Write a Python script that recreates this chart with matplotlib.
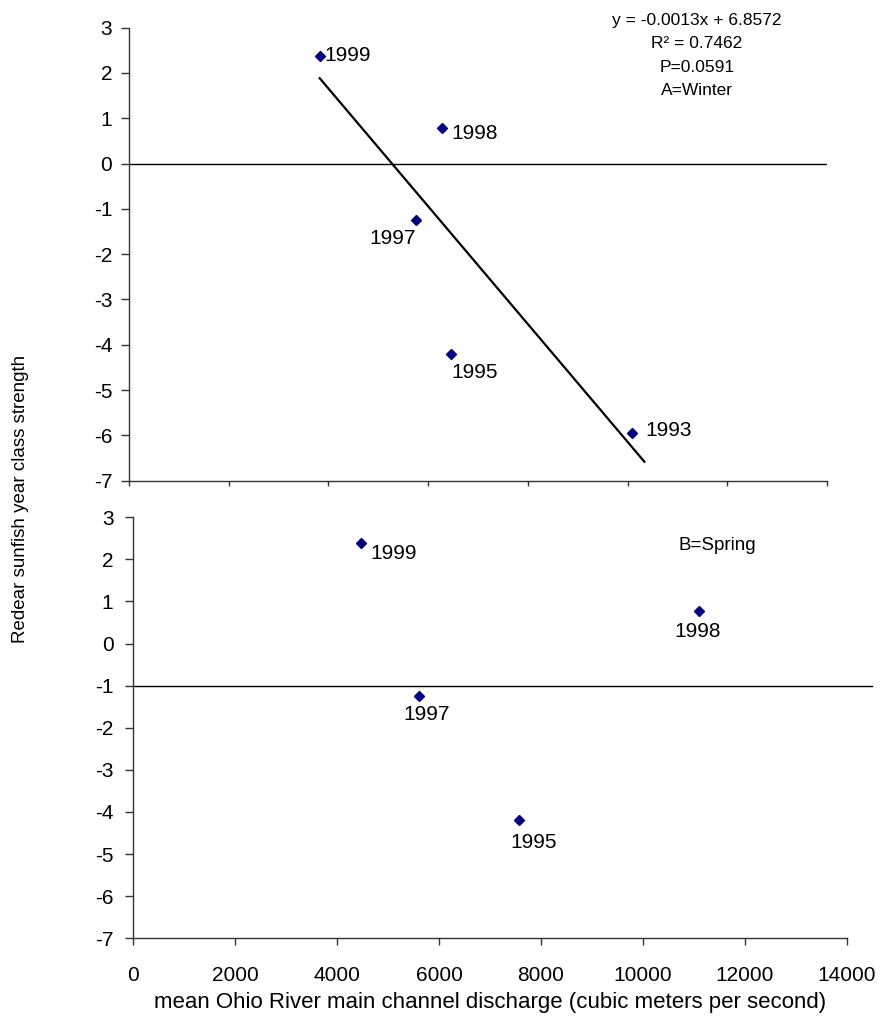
import matplotlib
matplotlib.use('Agg')
import matplotlib.pyplot as plt

plt.rcParams['font.family'] = ['Liberation Sans', 'DejaVu Sans']
plt.rcParams['axes.unicode_minus'] = False

# year class strength of redear sunfish vs. mean Ohio River discharge
winter_years = ['1999', '1998', '1997', '1995', '1993']
winter_flow = [3825, 6273, 5751, 6453, 10097]
winter_strength = [2.38, 0.78, -1.25, -4.20, -5.95]

spring_years = ['1999', '1998', '1997', '1995']
spring_flow = [4470, 11105, 5614, 7575]
spring_strength = [2.38, 0.78, -1.25, -4.20]

# regression for winter discharge
slope = -0.0013
intercept = 6.8572
fit_range = [3825, 10337]

# label offsets (pixels) and alignment for each year
winter_offsets = [(5, 0, 'left'), (10, -5, 'left'), (0, -18, 'right'),
                  (1, -19, 'left'), (13, 3, 'left')]
spring_offsets = [(9, -10, 'left'), (-2, -21, 'center'), (7, -18, 'center'),
                  (14, -22, 'center')]

W, H = 883, 1018
fig = plt.figure(figsize=(W / 100, H / 100), dpi=100)
ax1 = fig.add_axes([129 / W, 1 - 480.7 / H, 698 / W, 453 / H])
ax2 = fig.add_axes([133.3 / W, 1 - 938.3 / H, 713.4 / W, 421 / H])

marker = dict(marker='D', color='#000080', markersize=4.6, linestyle='none')
axis_col = '#333333'

for ax in (ax1, ax2):
    ax.set_xlim(0, 14000)
    ax.set_ylim(-7, 3)
    ax.set_yticks(range(-7, 4))
    ax.set_xticks(range(0, 14001, 2000))
    for side in ('top', 'right'):
        ax.spines[side].set_visible(False)
    for side in ('left', 'bottom'):
        ax.spines[side].set_color(axis_col)
        ax.spines[side].set_linewidth(1.0)
    ax.tick_params(colors=axis_col, labelcolor='black', labelsize=15, width=1.0)

ax1.tick_params(axis='x', length=3.6, labelbottom=False)
ax1.tick_params(axis='y', length=5.5, pad=6.5)
ax2.tick_params(axis='x', length=5, pad=15)
ax2.tick_params(axis='y', length=5.8, pad=8.5)

# winter panel
ax1.plot([0, 14000], [0, 0], color='black', lw=1.0)
fit_y = [slope * x + intercept for x in fit_range]
ax1.plot(fit_range, fit_y, color='black', lw=1.6)
ax1.plot(winter_flow, winter_strength, **marker)
for yr, x, y, (dx, dy, ha) in zip(winter_years, winter_flow, winter_strength, winter_offsets):
    ax1.annotate(yr, (x, y), xytext=(dx, dy), textcoords='offset pixels',
                 ha=ha, va='center', fontsize=15)

stats = [f'y = {slope}x + {intercept}', 'R² = 0.7462', 'P=0.0591', 'A=Winter']
for i, line in enumerate(stats):
    fig.text(697 / W, 1 - (20 + 23.5 * i) / H, line, ha='center', va='center',
             fontsize=12.5)

# spring panel
ax2.plot([0, 14500], [-1, -1], color='black', lw=1.0, clip_on=False)
ax2.plot(spring_flow, spring_strength, **marker)
for yr, x, y, (dx, dy, ha) in zip(spring_years, spring_flow, spring_strength, spring_offsets):
    ax2.annotate(yr, (x, y), xytext=(dx, dy), textcoords='offset pixels',
                 ha=ha, va='center', fontsize=15)
fig.text(717 / W, 1 - 545 / H, 'B=Spring', ha='center', va='center', fontsize=13.5)

ax2.set_xlabel('mean Ohio River main channel discharge (cubic meters per second)',
               fontsize=16, labelpad=5)
fig.text(21 / W, 1 - 499 / H, 'Redear sunfish year class strength',
         rotation=90, ha='center', va='center', fontsize=13.5)

fig.savefig('out.png', dpi=100)
